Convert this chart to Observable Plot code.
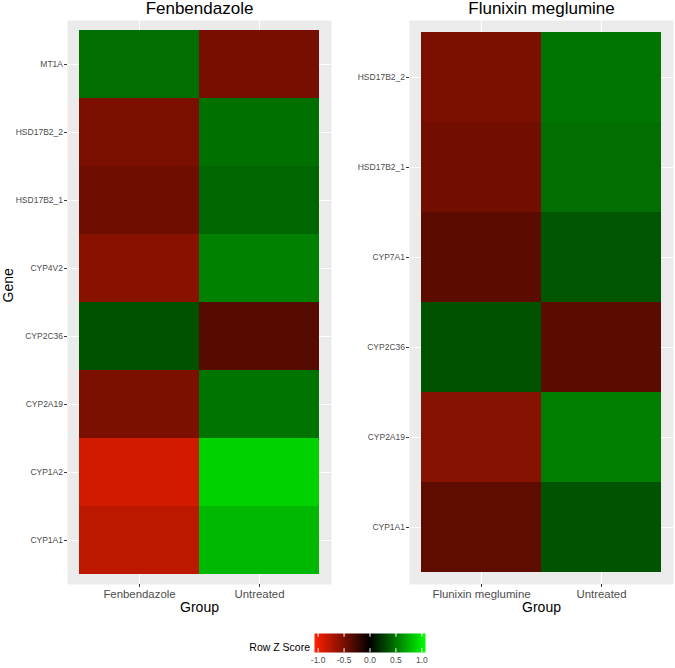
<!DOCTYPE html>
<html>
<head>
<meta charset="utf-8">
<script src="https://cdn.jsdelivr.net/npm/d3@7"></script>
<script src="https://cdn.jsdelivr.net/npm/@observablehq/plot@0.6"></script>
<style>
  html, body { margin: 0; padding: 0; background: #fff; }
  #chart { position: relative; width: 675px; height: 668px; overflow: hidden;
           font-family: "Liberation Sans", Arial, Helvetica, sans-serif; }
  #chart > div { position: absolute; }
  #chart svg { display: block; overflow: visible; }
</style>
</head>
<body>
<div id="chart">
  <div id="left" style="left:0;top:0"></div>
  <div id="right" style="left:337px;top:0"></div>
  <div id="legend" style="left:230px;top:625px"></div>
</div>
<script>
// ---- data ----
const leftTitle = "Fenbendazole";
const leftGroups = ["Fenbendazole", "Untreated"];
const leftGenes = ["MT1A", "HSD17B2_2", "HSD17B2_1", "CYP4V2", "CYP2C36", "CYP2A19", "CYP1A2", "CYP1A1"];
const leftTreated = [0.46, -0.51, -0.46, -0.57, 0.345, -0.52, -0.88, -0.79];
const leftUntreated = [-0.495, 0.47, 0.43, 0.535, -0.36, 0.487, 0.88, 0.77];

const rightTitle = "Flunixin meglumine";
const rightGroups = ["Flunixin meglumine", "Untreated"];
const rightGenes = ["HSD17B2_2", "HSD17B2_1", "CYP7A1", "CYP2C36", "CYP2A19", "CYP1A1"];
const rightTreated = [-0.51, -0.48, -0.38, 0.345, -0.56, -0.395];
const rightUntreated = [0.495, 0.46, 0.36, -0.38, 0.53, 0.35];

const legendTitle = "Row Z Score";
const legendTicks = [-1.0, -0.5, 0.0, 0.5, 1.0];
const colorLimits = [-1.07, 0, 1.07];
const colorRange = ["#ff2000", "#000000", "#00ff00"];

// ---- drawing ----
const font = "'Liberation Sans', Arial, Helvetica, sans-serif";
const colorScale = {type: "linear", domain: colorLimits, range: colorRange, interpolate: "rgb"};

function panel({title, groups, genes, treated, untreated, width, marginLeft, marginRight, showGene}) {
  const data = genes.flatMap((g, i) => [
    {gene: g, group: groups[0], value: treated[i]},
    {gene: g, group: groups[1], value: untreated[i]}
  ]);
  const H = 620, mt = 20, mb = 36;
  const insetY = (H - mt - mb) * 0.1 / (genes.length + 0.2);
  const insetX = (width - marginLeft - marginRight) * 0.1 / 2.2;
  const marks = [
    Plot.frame({fill: "#ebebeb", stroke: "none"}),
    Plot.gridX({stroke: "white", strokeOpacity: 1, strokeWidth: 1.1}),
    Plot.gridY({stroke: "white", strokeOpacity: 1, strokeWidth: 1.1}),
    Plot.cell(data, {x: "group", y: "gene", fill: "value", inset: 0}),
    Plot.axisX({tickSize: 3, tickPadding: 2, fontSize: 11.4, fill: "#4d4d4d", stroke: "#333333", label: null}),
    Plot.axisY({tickSize: 3, tickPadding: 1.5, fontSize: 8.5, fill: "#4d4d4d", stroke: "#333333", label: null}),
    Plot.text([title], {frameAnchor: "top", lineAnchor: "middle", dy: -12, fontSize: 17, fill: "black"}),
    Plot.text(["Group"], {frameAnchor: "bottom", lineAnchor: "middle", dy: 23, fontSize: 14, fill: "black"})
  ];
  if (showGene) marks.push(Plot.text(["Gene"], {frameAnchor: "left", dx: -59, rotate: -90, fontSize: 14, fill: "black"}));
  return Plot.plot({
    width, height: H, marginTop: mt, marginBottom: mb, marginLeft, marginRight,
    style: {fontFamily: font, background: "white", color: "black"},
    x: {type: "band", domain: groups, padding: 0, inset: insetX},
    y: {type: "band", domain: genes, padding: 0, inset: insetY},
    color: colorScale,
    marks
  });
}

document.getElementById("left").append(panel({
  title: leftTitle, groups: leftGroups, genes: leftGenes,
  treated: leftTreated, untreated: leftUntreated,
  width: 337, marginLeft: 67, marginRight: 6, showGene: true
}));
document.getElementById("right").append(panel({
  title: rightTitle, groups: rightGroups, genes: rightGenes,
  treated: rightTreated, untreated: rightUntreated,
  width: 338, marginLeft: 72, marginRight: 2, showGene: false
}));

const legendPlot = Plot.plot({
  width: 205, height: 43, marginLeft: 84, marginRight: 10, marginTop: 8, marginBottom: 16,
  style: {fontFamily: font, background: "white", color: "black"},
  x: {type: "linear", domain: [colorLimits[0], colorLimits[2]]},
  y: {type: "linear", domain: [0, 1], axis: null},
  color: colorScale,
  marks: [
    Plot.raster({x1: colorLimits[0], x2: colorLimits[2], y1: 0, y2: 1, width: 220, height: 1, fill: (x, y) => x, imageRendering: "auto"}),
    Plot.ruleX(legendTicks, {x: d => d, y1: 0, y2: 0.2, stroke: "white", strokeWidth: 1}),
    Plot.ruleX(legendTicks, {x: d => d, y1: 0.8, y2: 1, stroke: "white", strokeWidth: 1}),
    Plot.axisX(legendTicks, {tickSize: 0, tickPadding: 4, fontSize: 8.5, fill: "#4d4d4d", tickFormat: d => d.toFixed(1), label: null}),
    Plot.text([legendTitle], {x: colorLimits[0], y: 0.5, textAnchor: "end", dx: -4.5, dy: 5, fontSize: 10.5, fill: "black"})
  ]
});
document.getElementById("legend").append(legendPlot);
</script>
</body>
</html>
